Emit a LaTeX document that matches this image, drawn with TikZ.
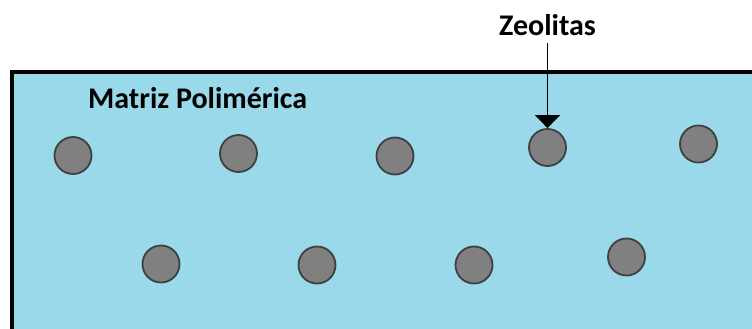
\documentclass[tikz,border=0pt]{standalone}
\usepackage{fontspec}
\setmainfont{Carlito}
\usetikzlibrary{arrows.meta}
\definecolor{matrix}{RGB}{153,217,234}
\definecolor{zeo}{RGB}{128,128,128}
\definecolor{zeoline}{RGB}{64,64,64}
\tikzset{
  zeolite/.style={circle,draw=zeoline,fill=zeo,line width=1.8pt,minimum size=37pt,inner sep=0pt},
  lbl/.style={font=\fontsize{30}{32}\selectfont\bfseries,inner sep=0pt,text=black}
}
\begin{document}
\begin{tikzpicture}[x=1pt,y=-1pt]
\useasboundingbox (0,0) rectangle (752,329);
\clip (0,0) rectangle (752,329);
\fill[white] (0,0) rectangle (752,329);
\draw[fill=matrix,line width=3.5pt] (12,72) rectangle (770,345);
\node[lbl,anchor=base west] (mp) at (88,108) {Matriz Polimérica};
\node[lbl,anchor=base] (zl) at (547.5,36) {Zeolitas};
\node[zeolite] (z1) at (73,155.5) {};
\node[zeolite] (z2) at (238.5,153.5) {};
\node[zeolite] (z3) at (395,156) {};
\node[zeolite] (z4) at (547.5,147.5) {};
\node[zeolite] (z5) at (698.5,144) {};
\node[zeolite] (z6) at (161,264) {};
\node[zeolite] (z7) at (317,265) {};
\node[zeolite] (z8) at (474,265) {};
\node[zeolite] (z9) at (626.5,257) {};
\draw[line width=1.5pt,-{Triangle[width=25pt,length=13pt]}] (zl.south) ++(0,7) -- (z4.north);
\end{tikzpicture}
\end{document}
